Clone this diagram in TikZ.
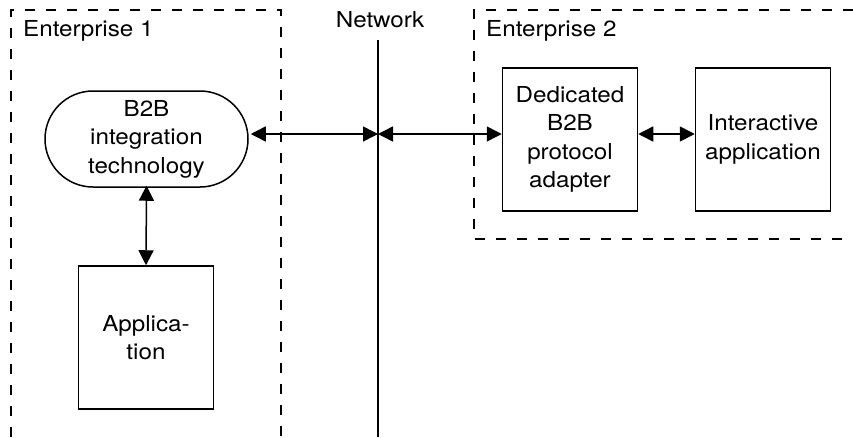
\documentclass[tikz,border=0pt]{standalone}
\usepackage{fontspec}
\setmainfont[FakeStretch=1.1]{TeX Gyre Heros}
\usetikzlibrary{arrows.meta}
\begin{document}
\begin{tikzpicture}[x=1pt,y=-1pt,
  font=\fontsize{22}{28.5}\selectfont,
  box/.style={draw,line width=1.5pt,minimum width=135pt,minimum height=143pt,inner sep=0pt,align=center},
  stadium/.style={draw,line width=1.5pt,rounded corners=48pt,minimum width=203pt,minimum height=96pt,inner sep=0pt,align=center},
  enc/.style={line width=1.4pt,dash pattern=on 10pt off 11pt},
  link/.style={line width=1.5pt,{Triangle[length=15pt,width=15pt]}-{Triangle[length=15pt,width=15pt]}},
  lbl/.style={anchor=base west,inner sep=0pt}]
\useasboundingbox (0,0) rectangle (853,437);
% enclosures
\coordinate (e1a) at (11,437);
\coordinate (e1b) at (11,10);
\coordinate (e1c) at (281,10);
\coordinate (e1d) at (281,437);
\draw[enc] (e1a) -- (e1b) -- (e1c) -- (e1d);
\coordinate (e2a) at (853,10);
\coordinate (e2b) at (474,10);
\coordinate (e2c) at (474,239);
\coordinate (e2d) at (853,239);
\draw[enc] (e2a) -- (e2b) -- (e2c) -- (e2d);
\node[lbl] (t1) at (23,36) {Enterprise 1};
\node[lbl] (t2) at (486,36) {Enterprise 2};
% network
\coordinate (ntop) at (378,40);
\coordinate (nbot) at (378,437);
\coordinate (n) at (378,134);
\draw[line width=1.8pt] (ntop) -- (nbot);
\node[anchor=base,inner sep=0pt] (net) at (380,27) {Network};
% nodes
\node[stadium] (b2b) at (146.5,139) {B2B\\integration\\technology};
\node[box] (app) at (146,337.5) {Applica-\\tion};
\node[box] (ded) at (570,139.5) {Dedicated\\B2B\\protocol\\adapter};
\node[box] (ia) at (763,139.5) {Interactive\\application};
% connectors
\draw[link] ([xshift=2pt]b2b.east |- n) -- (n);
\draw[link] (n) -- (ded.west |- n);
\draw[link] (ded.east |- n) -- (ia.west |- n);
\draw[link] ([yshift=2pt]b2b.south) -- (app.north);
\end{tikzpicture}
\end{document}
